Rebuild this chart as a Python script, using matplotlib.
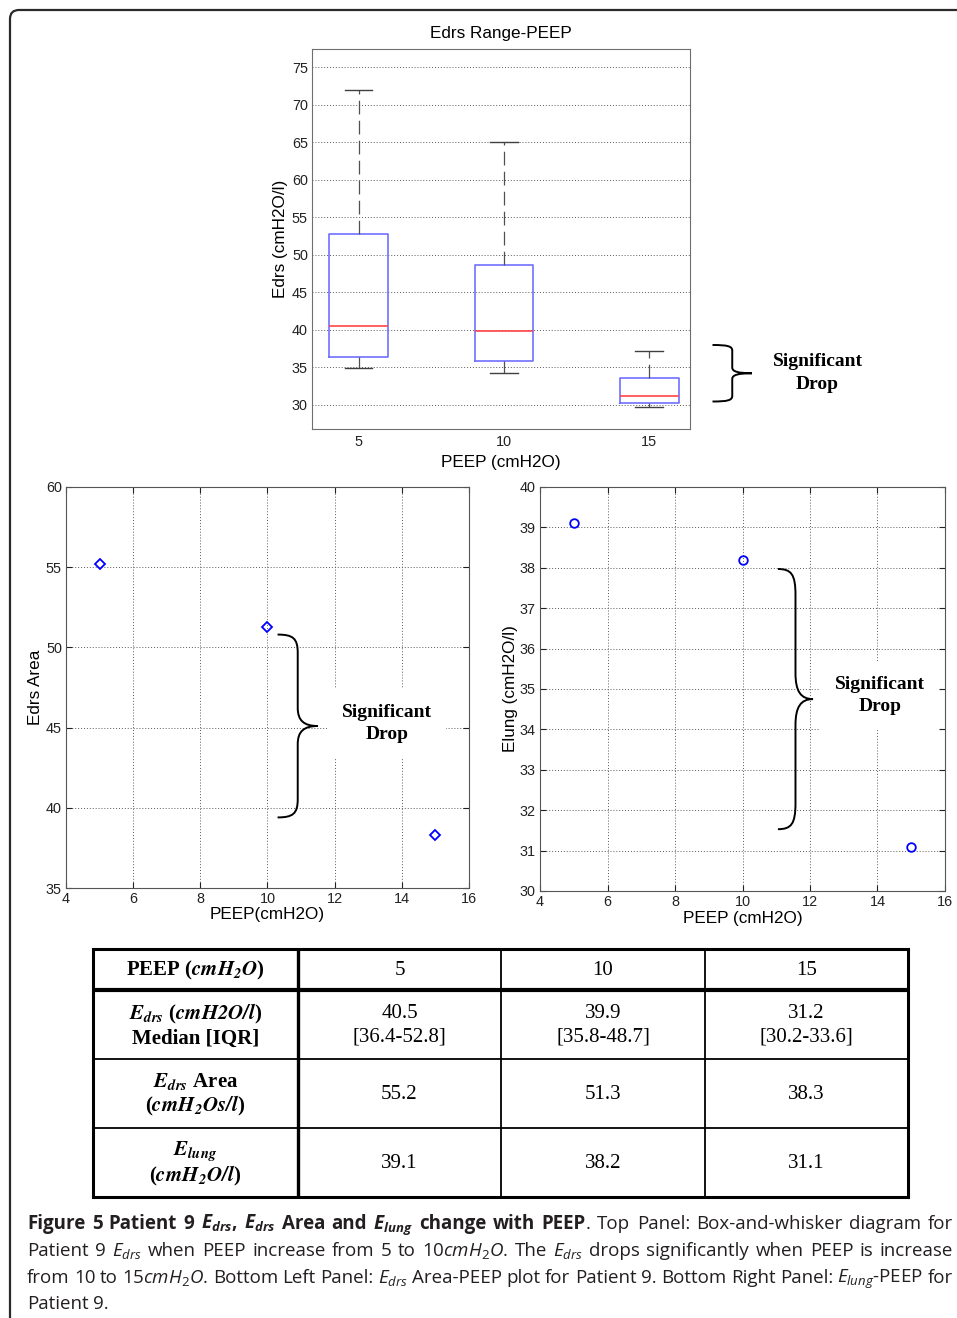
import matplotlib
matplotlib.use("Agg")
import matplotlib.pyplot as plt
from matplotlib.path import Path
from matplotlib.patches import PathPatch, FancyBboxPatch

# ---------------- data ----------------
peep = [5, 10, 15]
edrs_whislo = [34.9, 34.3, 29.7]
edrs_q1 = [36.4, 35.8, 30.2]
edrs_med = [40.5, 39.9, 31.2]
edrs_q3 = [52.8, 48.7, 33.6]
edrs_whishi = [72.0, 65.0, 37.2]
edrs_area = [55.2, 51.3, 38.3]
elung = [39.1, 38.2, 31.1]

box_yticks = [30, 35, 40, 45, 50, 55, 60, 65, 70, 75]
area_yticks = [35, 40, 45, 50, 55, 60]
lung_yticks = [30, 31, 32, 33, 34, 35, 36, 37, 38, 39, 40]
peep_xticks = [4, 6, 8, 10, 12, 14, 16]

table_row_labels = [
    r"PEEP ($\mathbfit{cmH_2O}$)",
    "$\\mathbfit{E_{drs}}$ ($\\mathbfit{cmH2O/l}$)\nMedian [IQR]",
    "$\\mathbfit{E_{drs}}$ Area\n($\\mathbfit{cmH_2Os/l}$)",
    "$\\mathbfit{E_{lung}}$\n($\\mathbfit{cmH_2O/l}$)",
]

# ---------------- style ----------------
plt.rcParams['font.family'] = ['Liberation Sans', 'DejaVu Sans']
plt.rcParams['mathtext.fontset'] = 'custom'
plt.rcParams['mathtext.rm'] = 'Open Sans'
plt.rcParams['mathtext.it'] = 'Open Sans:italic'
plt.rcParams['mathtext.bf'] = 'Open Sans:bold'
plt.rcParams['mathtext.bfit'] = 'Open Sans:italic:bold'

W, H = 957, 1318
fig = plt.figure(figsize=(W / 100, H / 100), dpi=100)


def rect(l, t, r, b):
    return [l / W, 1 - b / H, (r - l) / W, (b - t) / H]


TICK_FS = 10.4
LAB_FS = 12.3
GRID = dict(linestyle=(0, (1, 2)), color='#5a5a5a', lw=0.7)
SPINE_C = '#6e6e6e'


def brace_path(x0, x1, ytop, ybot):
    # right-facing curly brace, vertical bar halfway between x0 and x1
    def P(u, v):
        return (x0 + u * (x1 - x0), ytop + v * (ybot - ytop))
    verts = [P(0, 0), P(0.38, 0), P(0.5, 0.02), P(0.5, 0.1),
             P(0.5, 0.40),
             P(0.5, 0.47), P(0.65, 0.5), P(1, 0.5),
             P(0.65, 0.5), P(0.5, 0.53), P(0.5, 0.6),
             P(0.5, 0.9),
             P(0.5, 0.98), P(0.38, 1), P(0, 1)]
    codes = [Path.MOVETO, Path.CURVE4, Path.CURVE4, Path.CURVE4,
             Path.LINETO,
             Path.CURVE4, Path.CURVE4, Path.CURVE4,
             Path.CURVE4, Path.CURVE4, Path.CURVE4,
             Path.LINETO,
             Path.CURVE4, Path.CURVE4, Path.CURVE4]
    return Path(verts, codes)


SIG_KW = dict(fontsize=14, fontweight='bold', family=['Liberation Serif'],
              ha='center', va='center', linespacing=1.4)

# ---------------- overlay (frame + top brace) ----------------
ov = fig.add_axes([0, 0, 1, 1], zorder=-5)
ov.set_xlim(0, W)
ov.set_ylim(H, 0)
ov.axis('off')
frame = FancyBboxPatch((10, 10), W + 60, H + 60,
                       boxstyle="round,pad=0,rounding_size=9",
                       fc='white', ec='#2a2a2a', lw=1.6)
ov.add_patch(frame)

# ---------------- top: box plot ----------------
ax1 = fig.add_axes(rect(312, 49, 690, 429))
stats = [dict(whislo=lo, q1=a, med=m, q3=b, whishi=hi, fliers=[])
         for lo, a, m, b, hi in zip(edrs_whislo, edrs_q1, edrs_med, edrs_q3, edrs_whishi)]
ax1.bxp(stats, positions=[1, 2, 3], widths=0.403, capwidths=0.19, showfliers=False,
        boxprops=dict(color='#7070ff', lw=1.2),
        medianprops=dict(color='#ff4444', lw=1.2),
        whiskerprops=dict(color='#505050', lw=0.9, linestyle=(0, (11, 5))),
        capprops=dict(color='#404040', lw=1.0))
ax1.set_xlim(0.68, 3.28)
ax1.set_ylim(26.8, 77.4)
ax1.set_yticks(box_yticks)
ax1.set_xticks([1, 2, 3], [str(p) for p in peep])
ax1.yaxis.grid(True, **GRID)
ax1.set_axisbelow(True)
ax1.tick_params(axis='y', direction='in', length=0, pad=3, labelsize=TICK_FS, colors='#222222')
ax1.tick_params(axis='x', length=0, pad=4, labelsize=TICK_FS, colors='#222222')
for s in ax1.spines.values():
    s.set_color(SPINE_C)
ax1.set_title('Edrs Range-PEEP', fontsize=LAB_FS, pad=8)
ax1.set_xlabel('PEEP (cmH2O)', fontsize=LAB_FS, va='center')
ax1.xaxis.set_label_coords(0.5, (429 - 462) / 380)
ax1.set_ylabel('Edrs (cmH2O/l)', fontsize=LAB_FS, va='center')
ax1.yaxis.set_label_coords((281 - 312) / 378, 0.5)

ov.add_patch(PathPatch(brace_path(712.5, 752, 345, 401.5), fc='none', ec='black', lw=1.4))
ov.text(817.5, 373, 'Significant\nDrop', **SIG_KW)


def style_scatter_axes(ax, yticks):
    ax.set_xlim(4, 16)
    ax.set_ylim(yticks[0], yticks[-1])
    ax.set_xticks(peep_xticks)
    ax.set_yticks(yticks)
    ax.grid(True, **GRID)
    ax.set_axisbelow(True)
    ax.tick_params(direction='in', length=4, top=True, right=True,
                   labelsize=TICK_FS, colors='#222222', pad=3)
    for s in ax.spines.values():
        s.set_color('#555555')


# ---------------- bottom left ----------------
ax2 = fig.add_axes(rect(66, 487, 469, 888))
ax2.plot(peep, edrs_area, 'D', ms=5.6, mfc='none', mec='#0000ff', mew=1.3, ls='none')
style_scatter_axes(ax2, area_yticks)
ax2.set_xlabel('PEEP(cmH2O)', fontsize=LAB_FS, va='center')
ax2.xaxis.set_label_coords(0.5, (888 - 915) / 401)
ax2.set_ylabel('Edrs Area', fontsize=LAB_FS, va='center')
ax2.yaxis.set_label_coords((35 - 66) / 403, 0.5)
ax2.add_patch(PathPatch(brace_path(10.3, 11.5, 50.8, 39.4), fc='none', ec='black', lw=1.4))
ax2.text(13.55, 45.25, 'Significant\nDrop',
         bbox=dict(boxstyle='square,pad=0.75', fc='white', ec='none'), **SIG_KW)

# ---------------- bottom right ----------------
ax3 = fig.add_axes(rect(540, 487, 945, 891))
ax3.plot(peep, elung, 'o', ms=6.2, mfc='none', mec='#0000ff', mew=1.3, ls='none')
style_scatter_axes(ax3, lung_yticks)
ax3.set_xlabel('PEEP (cmH2O)', fontsize=LAB_FS, va='center')
ax3.xaxis.set_label_coords(0.5, (891 - 918) / 404)
ax3.set_ylabel('Elung (cmH2O/l)', fontsize=LAB_FS, va='center')
ax3.yaxis.set_label_coords((510 - 540) / 405, 0.5)
ax3.add_patch(PathPatch(brace_path(11.05, 12.09, 37.97, 31.53), fc='none', ec='black', lw=1.4))
ax3.text(14.07, 34.84, 'Significant\nDrop',
         bbox=dict(boxstyle='square,pad=0.75', fc='white', ec='none'), **SIG_KW)

# ---------------- table ----------------
tb = fig.add_axes(rect(93, 949, 908, 1197))
TW, TH = 815, 248
tb.set_xlim(0, TW)
tb.set_ylim(TH, 0)
tb.axis('off')
col_edges = [0, 205, 408, 612, TW]
row_edges = [0, 41, 110, 179, TH]
lw_thin = 1.3
for i, y in enumerate(row_edges):
    outer = i in (0, len(row_edges) - 1)
    lw = 2.2 if outer else (3.0 if i == 1 else lw_thin)
    tb.plot([0, TW], [y, y], color='black', lw=lw,
            solid_capstyle='projecting' if outer else 'butt', clip_on=False)
for j, x in enumerate(col_edges):
    outer = j in (0, len(col_edges) - 1)
    lw = 2.2 if outer else (2.4 if j == 1 else lw_thin)
    tb.plot([x, x], [0, TH], color='black', lw=lw,
            solid_capstyle='projecting' if outer else 'butt', clip_on=False)

T_FS = 15
rows_values = [
    [str(p) for p in peep],
    [f"{m}\n[{a}-{b}]" for m, a, b in zip(edrs_med, edrs_q1, edrs_q3)],
    [f"{v}" for v in edrs_area],
    [f"{v}" for v in elung],
]
label_ls = [1.2, 1.2, 1.15, 1.0]
for r in range(4):
    yc = (row_edges[r] + row_edges[r + 1]) / 2
    xc0 = (col_edges[0] + col_edges[1]) / 2
    tb.text(xc0, yc + 1, table_row_labels[r], ha='center', va='center', fontsize=T_FS,
            fontweight='bold', family=['Liberation Serif'], math_fontfamily='stix',
            linespacing=label_ls[r])
    for c in range(3):
        xc = (col_edges[c + 1] + col_edges[c + 2]) / 2
        tb.text(xc, yc + 1, rows_values[r][c], ha='center', va='center', fontsize=T_FS,
                family=['Liberation Serif'], linespacing=1.3)

# ---------------- caption (justified) ----------------
CAP_FS0 = 12.0
CAP_FAM = ['Open Sans', 'DejaVu Sans']
B, R = True, False
cap_lines = [
    [("Figure", B, 1), ("5", B, 1), ("Patient", B, 1), ("9", B, 1),
     (r"$\mathbfit{E_{drs}}$,", B, 1), (r"$\mathbfit{E_{drs}}$", B, 1), ("Area", B, 1),
     ("and", B, 1), (r"$\mathbfit{E_{lung}}$", B, 1), ("change", B, 1), ("with", B, 1),
     ("PEEP", B, 1), (".", R, 0), ("Top", R, 1), ("Panel:", R, 1),
     ("Box-and-whisker", R, 1), ("diagram", R, 1), ("for", R, 1)],
    [("Patient", R, 1), ("9", R, 1), (r"$E_{drs}$", R, 1), ("when", R, 1), ("PEEP", R, 1),
     ("increase", R, 1), ("from", R, 1), ("5", R, 1), ("to", R, 1), (r"10$cmH_2O$.", R, 1),
     ("The", R, 1), (r"$E_{drs}$", R, 1), ("drops", R, 1), ("significantly", R, 1),
     ("when", R, 1), ("PEEP", R, 1), ("is", R, 1), ("increase", R, 1)],
    [("from", R, 1), ("10", R, 1), ("to", R, 1), (r"15$cmH_2O$.", R, 1), ("Bottom", R, 1),
     ("Left", R, 1), ("Panel:", R, 1), (r"$E_{drs}$", R, 1), ("Area-PEEP", R, 1),
     ("plot", R, 1), ("for", R, 1), ("Patient", R, 1), ("9.", R, 1), ("Bottom", R, 1),
     ("Right", R, 1), ("Panel:", R, 1), (r"$E_{lung}$-PEEP", R, 1), ("for", R, 1)],
    [("Patient", R, 1), ("9.", R, 1)],
]
cap_baselines = [1229, 1256, 1283, 1309]
X0, X1 = 27, 953
SPACE_EM = 0.24

renderer = fig.canvas.get_renderer()


def measure(line, fs):
    out = []
    for s, bold, _ in line:
        t = ov.text(0, 0, s, fontsize=fs, family=CAP_FAM,
                    fontweight='bold' if bold else 'normal')
        out.append(t.get_window_extent(renderer).width)
        t.remove()
    return out


# choose a font size so that the justified lines keep roughly natural spacing
fs_candidates = []
for line in cap_lines[:-1]:
    w = sum(measure(line, CAP_FS0))
    ng = sum(g for _, _, g in line[1:])
    sp = SPACE_EM * CAP_FS0 * 100 / 72
    fs_candidates.append(CAP_FS0 * (X1 - X0) / (w + ng * sp))
CAP_FS = min(fs_candidates)

for li, (line, yb) in enumerate(zip(cap_lines, cap_baselines)):
    texts = []
    widths = []
    for s, bold, _ in line:
        t = ov.text(0, yb, s, fontsize=CAP_FS, family=CAP_FAM,
                    fontweight='bold' if bold else 'normal', color='#231f20',
                    ha='left', va='baseline')
        texts.append(t)
        widths.append(t.get_window_extent(renderer).width)
    n_gaps = sum(g for _, _, g in line[1:])
    if li < len(cap_lines) - 1 and n_gaps > 0:
        space = (X1 - X0 - sum(widths)) / n_gaps
    else:
        space = SPACE_EM * CAP_FS * 100 / 72
    x = X0
    for k, (t, w) in enumerate(zip(texts, widths)):
        if k > 0 and line[k][2]:
            x += space
        t.set_x(x)
        x += w

fig.savefig('out.png', dpi=100)
